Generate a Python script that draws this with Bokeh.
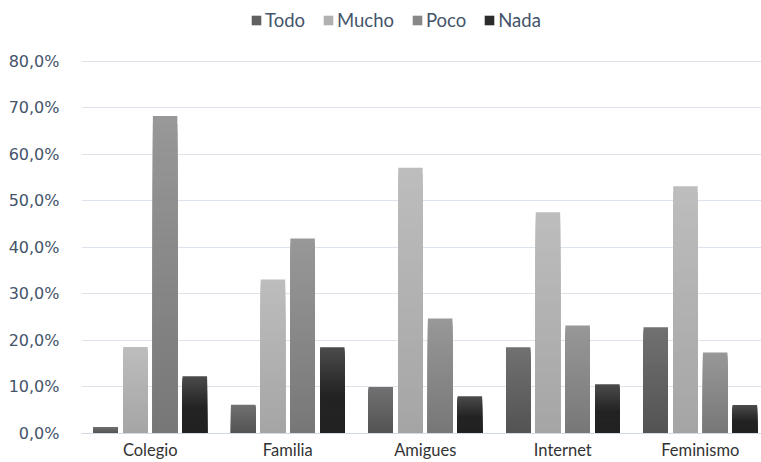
from bokeh.plotting import figure
from bokeh.models import (Range1d, Legend, LegendItem, FixedTicker,
                          ColumnDataSource)
from bokeh.embed import file_html
from bokeh.resources import INLINE

# ---- data -------------------------------------------------------------
categories = ["Colegio", "Familia", "Amigues", "Internet", "Feminismo"]
series_names = ["Todo", "Mucho", "Poco", "Nada"]

todo = [1.4, 6.2, 10.0, 18.5, 22.8]
mucho = [18.6, 33.1, 57.1, 47.5, 53.1]
poco = [68.2, 41.9, 24.7, 23.2, 17.4]
nada = [12.3, 18.5, 8.0, 10.6, 6.1]

y_ticks = [0, 10, 20, 30, 40, 50, 60, 70, 80]
y_tick_labels = ["0,0%", "10,0%", "20,0%", "30,0%", "40,0%",
                 "50,0%", "60,0%", "70,0%", "80,0%"]

# ---- styling ----------------------------------------------------------
# vertical gradient stops per series: (position from bottom, colour)
gradients = {
    "Todo": [(0.0, (0x53, 0x53, 0x53)), (1.0, (0x71, 0x71, 0x71))],
    "Mucho": [(0.0, (0xa5, 0xa5, 0xa5)), (1.0, (0xbd, 0xbd, 0xbd))],
    "Poco": [(0.0, (0x77, 0x77, 0x77)), (1.0, (0x98, 0x98, 0x98))],
    "Nada": [(0.0, (0x22, 0x22, 0x22)), (0.45, (0x23, 0x23, 0x23)),
             (1.0, (0x4c, 0x4c, 0x4c))],
}
legend_colors = {"Todo": "#606060", "Mucho": "#b1b1b1",
                 "Poco": "#888888", "Nada": "#2b2b2b"}

GROUP_STEP = 0.216   # distance between bar centres within a category
BAR_WIDTH = 0.178
SLICES = 40


def grad_color(stops, pos):
    for (p0, c0), (p1, c1) in zip(stops[:-1], stops[1:]):
        if p0 <= pos <= p1:
            t = (pos - p0) / (p1 - p0) if p1 > p0 else 0.0
            rgb = [round(a + (b - a) * t) for a, b in zip(c0, c1)]
            return "#%02x%02x%02x" % tuple(rgb)
    return "#%02x%02x%02x" % stops[-1][1]


# the frame reaches the top edge; the headroom above 80 % holds the legend
p = figure(width=761, height=462,
           x_range=Range1d(0, 4.945), y_range=Range1d(0, 93.0),
           output_backend="svg", toolbar_location=None,
           min_border_left=81, min_border_right=0,
           min_border_top=0, min_border_bottom=29)
p.outline_line_color = None
p.background_fill_color = "white"
p.border_fill_color = "white"

x_ticks = [j + 0.5 for j in range(len(categories))]

legend_items = []
for i, (name, values) in enumerate(zip(series_names, [todo, mucho, poco, nada])):
    offset = (i - 1.5) * GROUP_STEP
    stops = gradients[name]
    xs, tops, colors = [], [], []
    # overlapping bars from tallest to shortest build a smooth vertical gradient
    for k in range(SLICES):
        frac = (SLICES - k) / SLICES
        col = grad_color(stops, (SLICES - k - 0.5) / SLICES)
        for j, v in enumerate(values):
            xs.append(x_ticks[j] + offset)
            tops.append(v * frac)
            colors.append(col)
    src = ColumnDataSource(dict(x=xs, top=tops, color=colors))
    p.vbar(x="x", top="top", bottom=0, width=BAR_WIDTH, source=src,
           fill_color="color", line_color=None)

    # zero-height swatch renderer that carries the legend colour
    swatch = p.vbar(x=[x_ticks[0]], top=[0], bottom=0, width=BAR_WIDTH,
                    fill_color=legend_colors[name], line_color=None)
    legend_items.append(LegendItem(label=name, renderers=[swatch]))

legend = Legend(items=legend_items, orientation="horizontal",
                location=(169, 402))
legend.label_text_font = "Lato"
legend.label_text_font_size = "18.5px"
legend.label_text_color = "#44546a"
legend.label_height = 20
legend.glyph_width = 12
legend.glyph_height = 12
legend.label_standoff = 3
legend.spacing = 17
legend.padding = 0
legend.margin = 0
legend.border_line_color = None
legend.background_fill_alpha = 0
p.add_layout(legend)

# y axis
p.yaxis.ticker = FixedTicker(ticks=y_ticks)
p.yaxis.major_label_overrides = {t: lab for t, lab in zip(y_ticks, y_tick_labels)}
p.yaxis.axis_line_color = None
p.yaxis.major_tick_line_color = None
p.yaxis.minor_tick_line_color = None
p.yaxis.major_label_standoff = 16
p.yaxis.major_label_text_font = "DejaVu Sans"
p.yaxis.major_label_text_font_size = "16px"
p.yaxis.major_label_text_color = "#44546a"

# x axis
p.xaxis.ticker = FixedTicker(ticks=x_ticks)
p.xaxis.major_label_overrides = {t: c for t, c in zip(x_ticks, categories)}
p.xaxis.axis_line_color = "#d3d9e1"
p.xaxis.axis_line_width = 1
p.xaxis.major_tick_line_color = None
p.xaxis.minor_tick_line_color = None
p.xaxis.major_label_standoff = 0
p.xaxis.major_label_text_font = "Lato"
p.xaxis.major_label_text_font_size = "16.5px"
p.xaxis.major_label_text_color = "#333333"

p.xgrid.grid_line_color = None
p.ygrid.grid_line_color = "#dde3eb"
p.ygrid.grid_line_width = 1

open("out.html", "w").write(file_html(p, INLINE))
